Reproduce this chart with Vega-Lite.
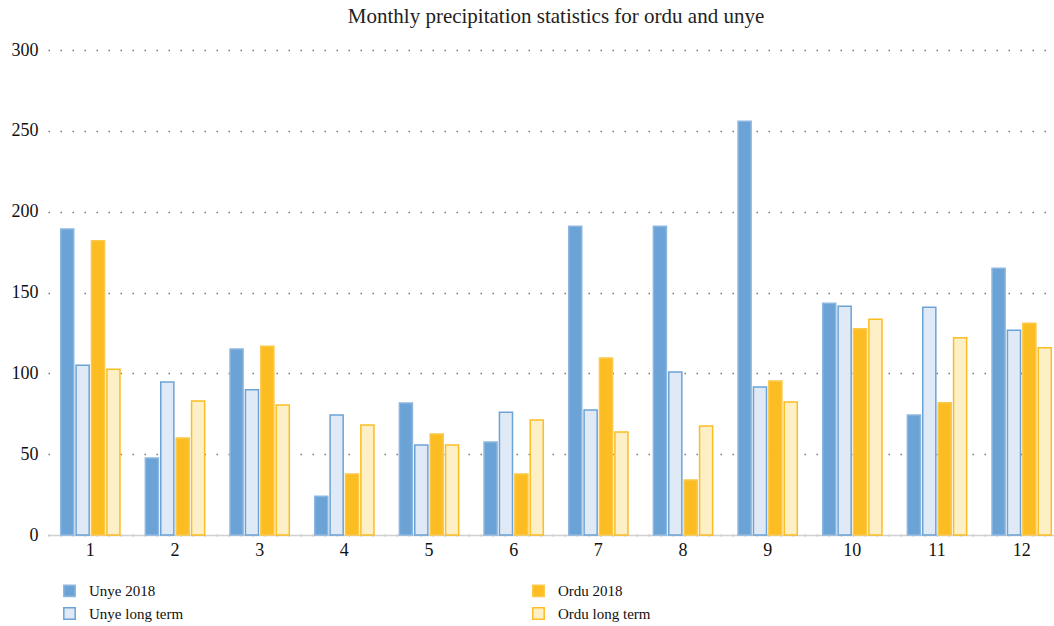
{
  "$schema": "https://vega.github.io/schema/vega-lite/v6.json",
  "autosize": {"type": "none"},
  "width": 1016,
  "height": 485,
  "padding": {"left": 48, "top": 50, "right": 0, "bottom": 91},
  "background": "white",
  "title": {"text": "Monthly precipitation statistics for ordu and unye", "font": "Liberation Serif", "fontSize": 21, "fontWeight": "normal", "color": "#222", "offset": 14, "anchor": "middle"},
  "config": {"view": {"stroke": null}, "font": "Liberation Serif"},
  "data": {"values": [
    {"month": 1, "series": "Unye 2018", "value": 189.3},
    {"month": 1, "series": "Unye long term", "value": 105},
    {"month": 1, "series": "Ordu 2018", "value": 182},
    {"month": 1, "series": "Ordu long term", "value": 102.6},
    {"month": 2, "series": "Unye 2018", "value": 47.6},
    {"month": 2, "series": "Unye long term", "value": 94.6},
    {"month": 2, "series": "Ordu 2018", "value": 60},
    {"month": 2, "series": "Ordu long term", "value": 82.9},
    {"month": 3, "series": "Unye 2018", "value": 115},
    {"month": 3, "series": "Unye long term", "value": 89.8},
    {"month": 3, "series": "Ordu 2018", "value": 116.8},
    {"month": 3, "series": "Ordu long term", "value": 80.4},
    {"month": 4, "series": "Unye 2018", "value": 24},
    {"month": 4, "series": "Unye long term", "value": 74.2},
    {"month": 4, "series": "Ordu 2018", "value": 37.7},
    {"month": 4, "series": "Ordu long term", "value": 68},
    {"month": 5, "series": "Unye 2018", "value": 81.6},
    {"month": 5, "series": "Unye long term", "value": 55.7},
    {"month": 5, "series": "Ordu 2018", "value": 62.5},
    {"month": 5, "series": "Ordu long term", "value": 55.7},
    {"month": 6, "series": "Unye 2018", "value": 57.5},
    {"month": 6, "series": "Unye long term", "value": 76},
    {"month": 6, "series": "Ordu 2018", "value": 37.7},
    {"month": 6, "series": "Ordu long term", "value": 71.1},
    {"month": 7, "series": "Unye 2018", "value": 191},
    {"month": 7, "series": "Unye long term", "value": 77.3},
    {"month": 7, "series": "Ordu 2018", "value": 109.5},
    {"month": 7, "series": "Ordu long term", "value": 63.7},
    {"month": 8, "series": "Unye 2018", "value": 191},
    {"month": 8, "series": "Unye long term", "value": 100.8},
    {"month": 8, "series": "Ordu 2018", "value": 34},
    {"month": 8, "series": "Ordu long term", "value": 67.4},
    {"month": 9, "series": "Unye 2018", "value": 256},
    {"month": 9, "series": "Unye long term", "value": 91.5},
    {"month": 9, "series": "Ordu 2018", "value": 95.3},
    {"month": 9, "series": "Ordu long term", "value": 82.3},
    {"month": 10, "series": "Unye 2018", "value": 143.3},
    {"month": 10, "series": "Unye long term", "value": 141.5},
    {"month": 10, "series": "Ordu 2018", "value": 127.6},
    {"month": 10, "series": "Ordu long term", "value": 133.4},
    {"month": 11, "series": "Unye 2018", "value": 74.2},
    {"month": 11, "series": "Unye long term", "value": 140.8},
    {"month": 11, "series": "Ordu 2018", "value": 81.8},
    {"month": 11, "series": "Ordu long term", "value": 122},
    {"month": 12, "series": "Unye 2018", "value": 165},
    {"month": 12, "series": "Unye long term", "value": 126.6},
    {"month": 12, "series": "Ordu 2018", "value": 131},
    {"month": 12, "series": "Ordu long term", "value": 115.9}
  ]},
  "mark": {"type": "bar", "strokeWidth": 1.5},
  "encoding": {
    "x": {"field": "month", "type": "ordinal", "title": null,
      "scale": {"paddingInner": 0.3, "paddingOuter": 0.15},
      "axis": {"labelAngle": 0, "ticks": false, "domainColor": "#d0d0d0", "domainWidth": 1.5, "labelFontSize": 18, "labelColor": "#111", "labelPadding": 6, "grid": false}},
    "xOffset": {"field": "series", "type": "nominal",
      "scale": {"domain": ["Unye 2018", "Unye long term", "Ordu 2018", "Ordu long term"], "paddingInner": 0.15}},
    "y": {"field": "value", "type": "quantitative", "title": null,
      "scale": {"domain": [0, 300], "nice": false},
      "axis": {"values": [0, 50, 100, 150, 200, 250, 300], "domain": false, "ticks": false, "labelFontSize": 18, "labelColor": "#111", "labelPadding": 10, "gridColor": "#777", "gridDash": [1.5, 10.5], "gridWidth": 1.5}},
    "fill": {"field": "series", "type": "nominal",
      "scale": {"domain": ["Unye 2018", "Unye long term", "Ordu 2018", "Ordu long term"], "range": ["#6ca3d6", "#dfeaf6", "#fbbd22", "#fdf0c6"]},
      "legend": {"title": null, "orient": "none", "legendX": 14, "legendY": 533, "columns": 2, "columnPadding": 345, "rowPadding": 4, "symbolType": "square", "symbolSize": 130, "symbolStrokeWidth": 1.5, "labelFontSize": 15, "labelColor": "#111", "labelOffset": 12}},
    "stroke": {"field": "series", "type": "nominal",
      "scale": {"domain": ["Unye 2018", "Unye long term", "Ordu 2018", "Ordu long term"], "range": ["#8db7e0", "#6ca3d6", "#fcc84a", "#fbbd22"]},
      "legend": null}
  }
}
